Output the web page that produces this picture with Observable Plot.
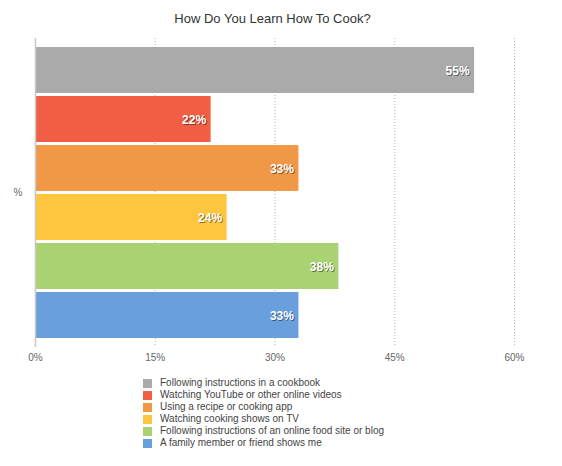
<!DOCTYPE html>
<html>
<head>
<meta charset="utf-8">
<script src="https://cdn.jsdelivr.net/npm/d3@7"></script>
<script src="https://cdn.jsdelivr.net/npm/@observablehq/plot@0.6"></script>
<style>
  body { margin: 0; background: #fff; font-family: "Liberation Sans", Arial, sans-serif; }
  #title { height: 36px; line-height: 38px; text-align: center; font-size: 13px; color: #333; width: 545px; }
  #legend { padding-top: 7px; padding-left: 143px; font-size: 10px; color: #444; }
  .row { height: 12px; line-height: 12px; display: flex; align-items: center; }
  .sw { width: 9px; height: 9px; margin-right: 8px; flex: none; }
</style>
</head>
<body>
<div id="title">How Do You Learn How To Cook?</div>
<div id="chart"></div>
<div id="legend"></div>
<script>
const categories = [
  "Following instructions in a cookbook",
  "Watching YouTube or other online videos",
  "Using a recipe or cooking app",
  "Watching cooking shows on TV",
  "Following instructions of an online food site or blog",
  "A family member or friend shows me"
];
const values = [55, 22, 33, 24, 38, 33];
const colors = ["#aaaaaa", "#f05f44", "#f19846", "#fec63f", "#a9d373", "#6a9fde"];
const xTicks = [0, 15, 30, 45, 60];
const groupLabel = "%";

const data = categories.map((c, i) => ({category: c, value: values[i]}));

const chart = Plot.plot({
  width: 562,
  height: 334,
  marginTop: 2,
  marginBottom: 23,
  marginLeft: 35,
  marginRight: 48,
  style: {fontFamily: "Liberation Sans, Arial, sans-serif", fontSize: "10px", color: "#666", background: "#fff"},
  x: {domain: [0, 60], axis: null},
  y: {domain: categories, axis: null, paddingInner: 0.067, paddingOuter: 0.17},
  color: {domain: categories, range: colors},
  marks: [
    Plot.ruleX(xTicks.slice(1), {stroke: "#b5b5b5", strokeDasharray: "1,2"}),
    Plot.barX(data, {x: "value", y: "category", fill: "category"}),
    Plot.ruleX([0], {stroke: "#c8c8c8", strokeWidth: 1.5}),
    Plot.text(data, {x: "value", y: "category", text: d => d.value + "%", textAnchor: "end", dx: -4, dy: 2, fill: "#000", fillOpacity: 0.45, fontSize: 12, fontWeight: "bold"}),
    Plot.text(data, {x: "value", y: "category", text: d => d.value + "%", textAnchor: "end", dx: -5, dy: 1, fill: "#fff", fontSize: 12, fontWeight: "bold"}),
    Plot.text([groupLabel], {frameAnchor: "left", dx: -22, textAnchor: "start", text: d => d, fill: "#666666", fontSize: 10}),
    Plot.axisX(xTicks, {tickSize: 0, tickPadding: 6, tickFormat: d => d + "%", fill: "#666666", fontSize: 10, label: null})
  ]
});
document.getElementById("chart").appendChild(chart);

const legend = document.getElementById("legend");
categories.forEach((c, i) => {
  const row = document.createElement("div");
  row.className = "row";
  const sw = document.createElement("span");
  sw.className = "sw";
  sw.style.background = colors[i];
  const t = document.createElement("span");
  t.textContent = c;
  row.appendChild(sw);
  row.appendChild(t);
  legend.appendChild(row);
});
</script>
</body>
</html>
